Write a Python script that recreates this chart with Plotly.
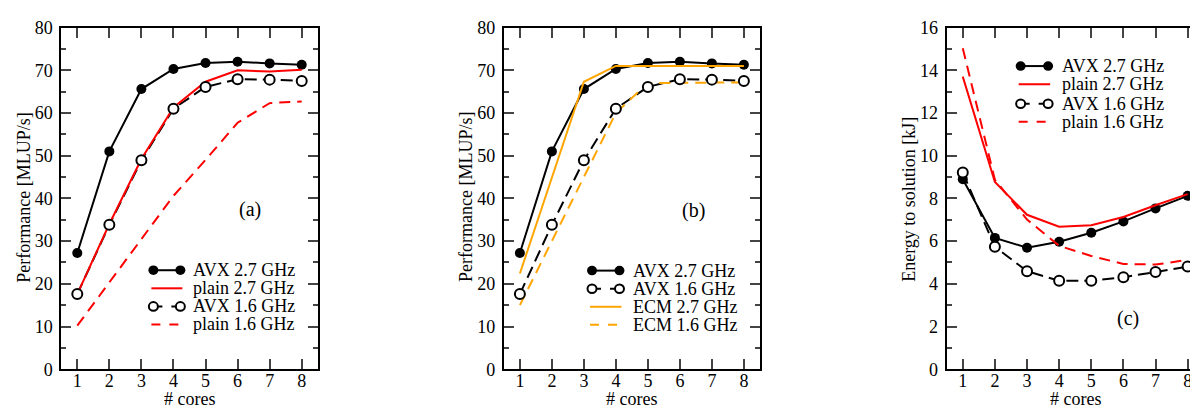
import plotly.graph_objects as go

W, H = 1198, 415
FONT = "Liberation Serif"

cores = [1, 2, 3, 4, 5, 6, 7, 8]

# Panel (a)/(b) performance [MLUP/s]
avx_27 = [27.2, 51.0, 65.6, 70.3, 71.7, 72.0, 71.6, 71.3]
avx_16 = [17.6, 33.8, 48.9, 61.0, 66.1, 67.9, 67.8, 67.5]
plain_27 = [17.6, 34.0, 49.2, 61.3, 67.3, 70.0, 69.7, 70.1]
plain_16 = [10.2, 20.4, 30.5, 40.6, 49.0, 57.7, 62.3, 62.7]
ecm_27 = [22.4, 44.9, 67.3, 71.0, 71.0, 71.0, 71.0, 71.0]
ecm_16 = [15.0, 30.0, 45.0, 60.0, 67.0, 67.1, 67.1, 67.1]

# Panel (c) energy to solution [kJ]
e_avx_27 = [8.90, 6.15, 5.69, 5.97, 6.39, 6.92, 7.53, 8.12]
e_plain_27 = [13.7, 8.77, 7.23, 6.67, 6.74, 7.13, 7.68, 8.20]
e_avx_16 = [9.21, 5.73, 4.59, 4.14, 4.14, 4.31, 4.55, 4.81]
e_plain_16 = [15.03, 8.87, 7.01, 5.78, 5.30, 4.93, 4.90, 5.12]

perf_ticks = [0, 10, 20, 30, 40, 50, 60, 70, 80]
energy_ticks = [0, 2, 4, 6, 8, 10, 12, 14, 16]

BLACK = "#000000"
RED = "#ff0000"
ORANGE = "#ffa500"
DASH_K = "12px,6px"
DASH_R = "11px,7px"


def px(x):
    return x / W


def py(y):
    return 1 - y / H


panels = {
    "a": (53.3, 310.0),
    "b": (496.3, 752.5),
    "c": (939.5, 1196.7),
}
TOP, BOT = 10.0, 369.0

fig = go.Figure()


def line(xa, ya, y, color, dash="solid"):
    fig.add_trace(go.Scatter(x=cores, y=y, xaxis=xa, yaxis=ya, mode="lines",
                             line=dict(color=color, width=2, dash=dash),
                             showlegend=False, hoverinfo="x+y"))


def marks(xa, ya, y, filled, dash, with_line=True):
    fig.add_trace(go.Scatter(
        x=cores, y=y, xaxis=xa, yaxis=ya,
        mode="lines+markers" if with_line else "markers",
        line=dict(color=BLACK, width=2, dash=dash),
        marker=dict(size=10,
                    color=BLACK if filled else "white",
                    line=dict(color=BLACK, width=0 if filled else 2)),
        showlegend=False, hoverinfo="x+y"))


# (a)
marks("x", "y", avx_27, True, "solid")
line("x", "y", avx_16, BLACK, DASH_K)
line("x", "y", plain_27, RED)
line("x", "y", plain_16, RED, DASH_R)
marks("x", "y", avx_16, False, DASH_K, with_line=False)

# (b)
line("x2", "y2", avx_16, BLACK, DASH_K)
marks("x2", "y2", avx_27, True, "solid")
line("x2", "y2", ecm_27, ORANGE)
line("x2", "y2", ecm_16, ORANGE, DASH_R)
marks("x2", "y2", avx_16, False, DASH_K, with_line=False)

# (c)
marks("x3", "y3", e_avx_27, True, "solid")
line("x3", "y3", e_avx_16, BLACK, DASH_K)
line("x3", "y3", e_plain_27, RED)
line("x3", "y3", e_plain_16, RED, DASH_R)
marks("x3", "y3", e_avx_16, False, DASH_K, with_line=False)

tickfont = dict(family=FONT, size=18, color="black")


def xaxis(dom):
    return dict(domain=[px(dom[0]), px(dom[1])], range=[0.5, 8.5],
                tickvals=cores, ticks="inside", ticklen=10, tickwidth=1.5,
                showline=True, linewidth=2, linecolor="black", mirror="allticks",
                showgrid=False, zeroline=False, tickfont=tickfont,
                ticklabelstandoff=-6, fixedrange=True)


def yaxis(anchor, rng, tv, minor_dt):
    return dict(domain=[py(BOT), py(TOP)], range=rng, tickvals=tv,
                ticks="inside", ticklen=10, tickwidth=1.5,
                minor=dict(ticks="inside", ticklen=5, tickwidth=1.5,
                           dtick=minor_dt, tick0=0, showgrid=False),
                showline=True, linewidth=2, linecolor="black", mirror="allticks",
                showgrid=False, zeroline=False, tickfont=tickfont,
                ticklabelstandoff=3, anchor=anchor, fixedrange=True)


fig.update_layout(
    width=W, height=H,
    margin=dict(l=0, r=0, t=0, b=0),
    paper_bgcolor="white", plot_bgcolor="white",
    showlegend=False,
    font=dict(family=FONT, size=18, color="black"),
    xaxis=dict(xaxis(panels["a"]), anchor="y"),
    yaxis=yaxis("x", [0, 80], perf_ticks, 5),
    xaxis2=dict(xaxis(panels["b"]), anchor="y2"),
    yaxis2=yaxis("x2", [0, 80], perf_ticks, 5),
    xaxis3=dict(xaxis(panels["c"]), anchor="y3"),
    yaxis3=yaxis("x3", [0, 16], energy_ticks, 1),
)

ann = []
shapes = []


def text(x, y, s, size=18, angle=0, xanchor="center"):
    ann.append(dict(x=px(x), y=py(y), xref="paper", yref="paper", text=s,
                    showarrow=False, textangle=angle, xanchor=xanchor,
                    yanchor="middle", font=dict(family=FONT, size=size, color="black")))


# axis titles
text(16.3, 188.5, "Performance [MLUP/s]", angle=-90)
text(459.0, 188.5, "Performance [MLUP/s]", angle=-90)
text(901.7, 190.0, "Energy to solution [kJ]", angle=-90)
for k in "abc":
    x0, x1 = panels[k]
    text((x0 + x1) / 2, 400, "# cores")

# panel labels
text(242.7, 201.7, "(a)", size=20)
text(685.7, 202.0, "(b)", size=20)
text(1120.7, 316.0, "(c)", size=20)


def seg(x0, x1, y, color, dash="solid"):
    shapes.append(dict(type="line", xref="paper", yref="paper",
                       x0=px(x0), x1=px(x1), y0=py(y), y1=py(y),
                       line=dict(color=color, width=2, dash=dash)))


def circ(xc, y, filled):
    r = 5 if filled else 4.5
    shapes.append(dict(type="circle", xref="paper", yref="paper",
                       x0=px(xc - r), x1=px(xc + r), y0=py(y + r), y1=py(y - r),
                       fillcolor="black" if filled else "white",
                       line=dict(color="black", width=0 if filled else 2)))


def legend(xs0, xs1, xt, rows, entries):
    for yrow, (label, kind, color, dash) in zip(rows, entries):
        if kind == "line":
            seg(xs0, xs1, yrow, color, dash)
        else:
            seg(xs0 + 2, xs1 - 2, yrow, "black", dash)
            circ(xs0 + 2, yrow, kind == "filled")
            circ(xs1 - 2, yrow, kind == "filled")
        text(xt, yrow, label, xanchor="left")


legend(143.5, 174.5, 183.5, [265.0, 284.0, 303.0, 322.0], [
    ("AVX 2.7 GHz", "filled", BLACK, "solid"),
    ("plain 2.7 GHz", "line", RED, "solid"),
    ("AVX 1.6 GHz", "open", BLACK, "dash"),
    ("plain 1.6 GHz", "line", RED, "dash"),
])
legend(582.5, 614.0, 623.5, [265.4, 284.4, 303.4, 322.4], [
    ("AVX 2.7 GHz", "filled", BLACK, "solid"),
    ("AVX 1.6 GHz", "open", BLACK, "dash"),
    ("ECM 2.7 GHz", "line", ORANGE, "solid"),
    ("ECM 1.6 GHz", "line", ORANGE, "dash"),
])
legend(1011.5, 1043.0, 1052.5, [50.5, 69.5, 90.0, 109.0], [
    ("AVX 2.7 GHz", "filled", BLACK, "solid"),
    ("plain 2.7 GHz", "line", RED, "solid"),
    ("AVX 1.6 GHz", "open", BLACK, "dash"),
    ("plain 1.6 GHz", "line", RED, "dash"),
])

fig.update_layout(annotations=ann, shapes=shapes)
fig.write_html("out.html")
